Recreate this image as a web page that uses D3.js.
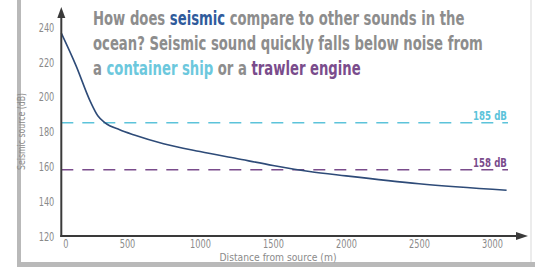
<!DOCTYPE html>
<html>
<head>
<meta charset="utf-8">
<script src="https://cdn.jsdelivr.net/npm/d3@7"></script>
<style>
  body { margin: 0; background: #fff; }
  svg { display: block; }
  text { font-family: "DejaVu Sans Condensed", "DejaVu Sans", sans-serif; font-stretch: condensed; }
</style>
</head>
<body>
<div id="chart"></div>
<script>
// values
var distance = [50, 150, 250, 300, 350, 450, 550, 750, 1000, 1250, 1500, 1750, 2000, 2500, 3100];
var level    = [236.5, 218, 197, 189, 185, 181, 178, 173, 168.5, 164.5, 160.5, 157, 154.5, 150, 146.3];

var xTicks = [0, 500, 1000, 1500, 2000, 2500, 3000];
var yTicks = [120, 140, 160, 180, 200, 220, 240];

var refNames  = ["container ship", "trawler engine"];
var refLevels = [185, 158];
var refLabels = ["185 dB", "158 dB"];
var refColors = ["#5cc3da", "#7a4c8c"];

var titleLines = [
  [["How does ", "#8d8d8d"], ["seismic", "#2f5b9c"], [" compare to other sounds in the", "#8d8d8d"]],
  [["ocean? Seismic sound quickly falls below noise from", "#8d8d8d"]],
  [["a ", "#8d8d8d"], ["container ship", "#6cc8dd"], [" or a ", "#8d8d8d"], ["trawler engine", "#7a4c8c"]]
];

var W = 535, H = 268;

var x = d3.scaleLinear().domain([0, 3000]).range([54, 492]),
    y = d3.scaleLinear().domain([120, 240]).range([236, 27]);

var x0 = x(distance[0]);   // where the y axis stands
var axisCol = "#3a3a3a", tickCol = "#8a8a8a";

var svg = d3.select("#chart").append("svg")
    .attr("width", W)
    .attr("height", H);

// light grey frame (left + bottom)
svg.append("rect").attr("x", 17).attr("y", 0).attr("width", 4).attr("height", 267).attr("fill", "#b9b9b9");
svg.append("rect").attr("x", 17).attr("y", 262).attr("width", W - 17).attr("height", 5).attr("fill", "#b9b9b9");
svg.append("rect").attr("x", 530).attr("y", 0).attr("width", 2).attr("height", 262).attr("fill", "#ececec");

// squeeze a text element horizontally
function squeeze(k) {
  return function() { return this.getComputedTextLength() * k; };
}

// title
var title = svg.append("g");
var lines = title.selectAll("text")
    .data(titleLines)
  .enter().append("text")
    .attr("x", 0)
    .attr("y", 0)
    .style("font-size", "20px")
    .style("font-weight", "bold");
lines.selectAll("tspan")
    .data(function(d) { return d; })
  .enter().append("tspan")
    .attr("fill", function(d) { return d[1]; })
    .style("white-space", "pre")
    .text(function(d) { return d[0]; });
var w2 = lines.nodes()[1].getComputedTextLength();
var sx = 390 / w2;
lines.attr("transform", function(d, i) { return "translate(93," + (25 + i * 25) + ") scale(" + sx + ",1)"; })
    .attr("xml:space", "preserve");

// reference levels
var refs = svg.append("g");
refs.selectAll("line")
    .data(refLevels)
  .enter().append("line")
    .attr("x1", x0)
    .attr("x2", 508)
    .attr("y1", function(d) { return y(d); })
    .attr("y2", function(d) { return y(d); })
    .attr("stroke", function(d, i) { return refColors[i]; })
    .attr("stroke-width", 1.6)
    .attr("stroke-dasharray", "12,9");
refs.selectAll("text")
    .data(refLevels)
  .enter().append("text")
    .attr("x", 490)
    .attr("y", function(d) { return y(d) - 3; })
    .attr("text-anchor", "middle")
    .attr("fill", function(d, i) { return refColors[i]; })
    .style("font-size", "12px")
    .style("font-weight", "bold")
    .text(function(d, i) { return refLabels[i]; })
    .attr("lengthAdjust", "spacingAndGlyphs")
    .attr("textLength", squeeze(0.8));

// seismic curve
var line = d3.line()
    .x(function(d, i) { return x(distance[i]); })
    .y(function(d) { return y(d); })
    .curve(d3.curveMonotoneX);

svg.append("path")
    .datum(level)
    .attr("d", line)
    .attr("fill", "none")
    .attr("stroke", "#2e4b78")
    .attr("stroke-width", 1.6);

// axes (labels only, lines drawn below with arrows)
var yAxis = d3.axisLeft(y).tickValues(yTicks).tickSize(0).tickPadding(7).tickFormat(d3.format("d")),
    xAxis = d3.axisBottom(x).tickValues(xTicks).tickSize(0).tickPadding(3).tickFormat(d3.format("d"));

var gy = svg.append("g")
    .attr("transform", "translate(" + x0 + ",0)")
    .call(yAxis);
var gx = svg.append("g")
    .attr("transform", "translate(0," + y(120) + ")")
    .call(xAxis);

[gx, gy].forEach(function(g) {
  g.select(".domain").remove();
  g.selectAll("text")
      .attr("fill", tickCol)
      .style("font-size", "13px")
      .attr("lengthAdjust", "spacingAndGlyphs")
      .attr("textLength", squeeze(0.7));
});
gx.selectAll("text").filter(function(d) { return d === 0; })
    .attr("x", x0 + 4 - x(0));

svg.append("line")
    .attr("x1", x0).attr("x2", x0)
    .attr("y1", y(120) + 1).attr("y2", 16)
    .attr("stroke", axisCol).attr("stroke-width", 2);
svg.append("path")
    .attr("d", "M" + x0 + ",7 L" + (x0 - 4) + ",18 L" + (x0 + 4) + ",18 Z")
    .attr("fill", axisCol);

svg.append("line")
    .attr("x1", x0 - 1).attr("x2", 517)
    .attr("y1", y(120)).attr("y2", y(120))
    .attr("stroke", axisCol).attr("stroke-width", 2);
svg.append("path")
    .attr("d", "M528," + y(120) + " L516," + (y(120) - 4) + " L516," + (y(120) + 4) + " Z")
    .attr("fill", axisCol);

// axis titles
svg.append("text")
    .attr("transform", "translate(25," + ((y(120) + y(240)) / 2) + ") rotate(-90)")
    .attr("text-anchor", "middle")
    .attr("fill", tickCol)
    .style("font-size", "10px")
    .text("Seismic source (dB)")
    .attr("lengthAdjust", "spacingAndGlyphs")
    .attr("textLength", 77);

svg.append("text")
    .attr("x", 278)
    .attr("y", 261)
    .attr("text-anchor", "middle")
    .attr("fill", tickCol)
    .style("font-size", "10px")
    .text("Distance from source (m)")
    .attr("lengthAdjust", "spacingAndGlyphs")
    .attr("textLength", 117);
</script>
</body>
</html>
